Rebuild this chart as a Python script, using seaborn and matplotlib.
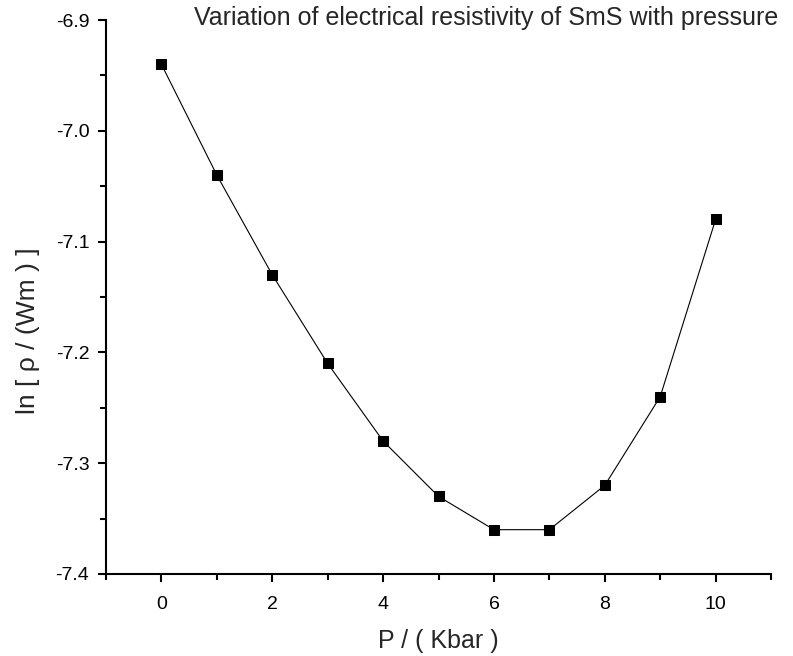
import matplotlib
matplotlib.use("Agg")
import matplotlib.pyplot as plt
import pandas as pd
import seaborn as sns
from matplotlib.ticker import MultipleLocator

# pressure (kbar) and ln(resistivity)
pressure = [0, 1, 2, 3, 4, 5, 6, 7, 8, 9, 10]
ln_rho = [-6.94, -7.04, -7.13, -7.21, -7.28, -7.33, -7.36, -7.36, -7.32, -7.24, -7.08]

title = "Variation of electrical resistivity of SmS with pressure"
xlabel = "P / ( Kbar )"
ylabel = "ln [ \u03c1 / (Wm ) ]"

sns.set_style("white")
plt.rcParams["font.family"] = ["Liberation Sans", "DejaVu Sans"]

df = pd.DataFrame({"P": pressure, "lnrho": ln_rho})

fig = plt.figure(figsize=(7.93, 6.56), dpi=100)
ax = fig.add_axes([0.1337, 0.125, 0.9723 - 0.1337, 0.9695 - 0.125])

sns.lineplot(data=df, x="P", y="lnrho", ax=ax, color="black", linewidth=0.8,
             marker="s", markersize=7, markeredgecolor="black")

ax.set_xlim(-1, 11)
ax.set_ylim(-7.4, -6.9)
ax.xaxis.set_major_locator(MultipleLocator(2))
ax.xaxis.set_minor_locator(MultipleLocator(1))
ax.yaxis.set_major_locator(MultipleLocator(0.1))
ax.yaxis.set_minor_locator(MultipleLocator(0.05))
ax.yaxis.set_major_formatter(plt.FuncFormatter(lambda v, p: f"{v:.1f}"))

for s in ["top", "right"]:
    ax.spines[s].set_visible(False)
for s in ["left", "bottom"]:
    ax.spines[s].set_color("black")
    ax.spines[s].set_linewidth(1.5)

ax.tick_params(which="major", direction="out", length=6, width=1.5, labelsize=14,
               colors="black", left=True, bottom=True)
ax.tick_params(which="minor", direction="out", length=4, width=1.5,
               colors="black", left=True, bottom=True)
ax.tick_params(axis="x", which="major", pad=10)
ax.tick_params(axis="y", which="major", pad=6)

ax.set_xlabel(xlabel, fontsize=18)
ax.set_ylabel(ylabel, fontsize=19)
# label positions in axes fraction (axes spans x 106..771, y 20..574 px)
ax.xaxis.set_label_coords(0.5, -0.10)
ax.yaxis.set_label_coords(-0.10, 0.44)
fig.text(486 / 793, 1 - 18 / 656, title, fontsize=18, ha="center", va="center")

fig.savefig("out.png", dpi=100)
